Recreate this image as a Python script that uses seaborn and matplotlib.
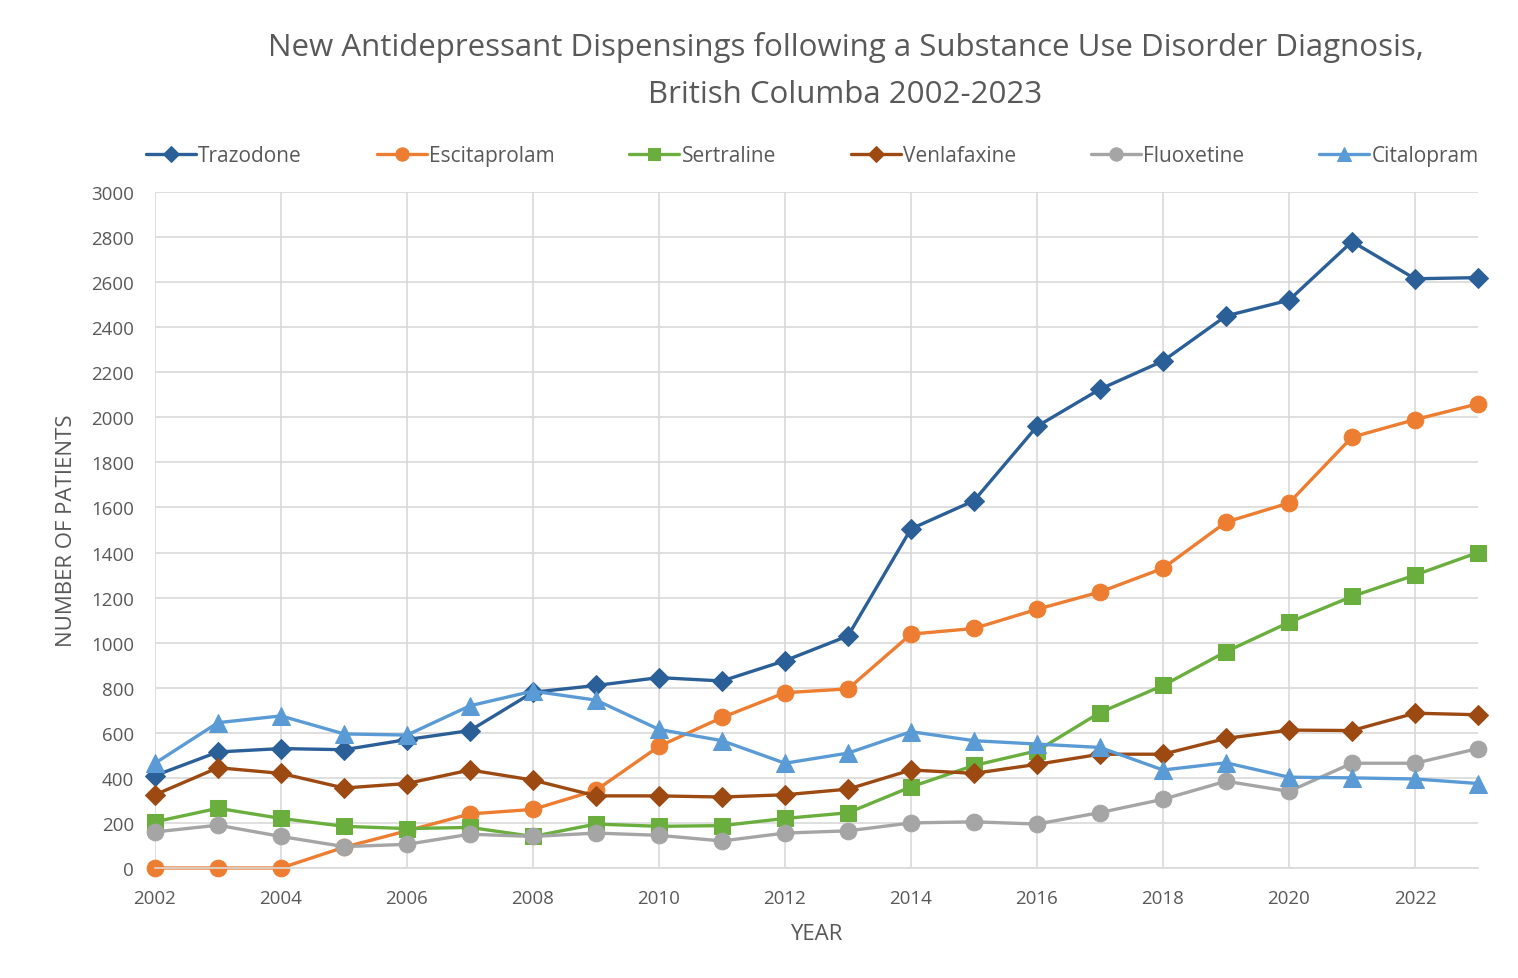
import numpy as np
import pandas as pd
import matplotlib
matplotlib.use("Agg")
import matplotlib.pyplot as plt
import seaborn as sns

years = list(range(2002, 2024))

trazodone = [410, 515, 530, 525, 570, 610, 780, 810, 845, 830, 920, 1030,
             1505, 1630, 1960, 2125, 2250, 2450, 2520, 2780, 2615, 2620]
escitaprolam = [0, 0, 0, 92, 165, 240, 260, 345, 540, 668, 778, 795,
                1038, 1063, 1148, 1225, 1330, 1535, 1620, 1912, 1990, 2060]
sertraline = [205, 265, 220, 185, 175, 180, 140, 195, 185, 188, 220, 245,
              360, 455, 520, 690, 810, 960, 1090, 1205, 1300, 1400]
venlafaxine = [325, 445, 420, 355, 375, 435, 390, 320, 320, 315, 325, 350,
               435, 420, 460, 505, 505, 575, 612, 610, 687, 680]
fluoxetine = [160, 190, 140, 95, 105, 150, 140, 155, 145, 120, 155, 165,
              200, 205, 195, 246, 305, 385, 340, 465, 465, 530]
citalopram = [465, 645, 675, 595, 590, 720, 785, 745, 615, 565, 465, 510,
              605, 565, 550, 535, 435, 467, 403, 400, 395, 375]

drugs = ["Trazodone", "Escitaprolam", "Sertraline", "Venlafaxine",
         "Fluoxetine", "Citalopram"]
series = [trazodone, escitaprolam, sertraline, venlafaxine, fluoxetine, citalopram]

colors = {
    "Trazodone": "#2B5F97",
    "Escitaprolam": "#ED7D31",
    "Sertraline": "#6AAE3E",
    "Venlafaxine": "#9C4A12",
    "Fluoxetine": "#A5A5A5",
    "Citalopram": "#5B9BD5",
}
markers = {
    "Trazodone": "D",
    "Escitaprolam": "o",
    "Sertraline": "s",
    "Venlafaxine": "D",
    "Fluoxetine": "o",
    "Citalopram": "^",
}
sizes = {
    "Trazodone": 10.5, "Escitaprolam": 12, "Sertraline": 11.5,
    "Venlafaxine": 10.5, "Fluoxetine": 12, "Citalopram": 12.5,
}

df = pd.DataFrame(
    [(y, d, v) for d, s in zip(drugs, series) for y, v in zip(years, s)],
    columns=["year", "drug", "patients"],
)

sns.set_theme(style="white")
plt.rcParams["font.family"] = ["Open Sans", "DejaVu Sans"]

fig = plt.figure(figsize=(15.18, 9.79), dpi=100)
ax = fig.add_axes([155 / 1518, 1 - 869 / 979, (1478 - 155) / 1518, (869 - 193) / 979])

for d in drugs:
    sns.lineplot(
        data=df[df["drug"] == d], x="year", y="patients", ax=ax,
        color=colors[d], marker=markers[d], markersize=sizes[d],
        markeredgecolor=colors[d], linewidth=2.4, label=d, legend=False,
        clip_on=False,
    )

ax.set_xlim(2002, 2023)
ax.set_ylim(0, 3000)
ax.set_xticks(range(2002, 2023, 2))
ax.set_yticks(range(0, 3001, 200))
ax.grid(True, color="#D9D9D9", linewidth=1.2)
ax.set_axisbelow(True)
for side in ["top", "right", "left"]:
    ax.spines[side].set_visible(False)
ax.spines["bottom"].set_color("#D9D9D9")
ax.spines["bottom"].set_linewidth(1.2)
ax.tick_params(axis="both", length=0, labelsize=13.5, colors="#595959")
ax.tick_params(axis="x", pad=15)
ax.tick_params(axis="y", pad=15)

ax.set_xlabel("YEAR", fontsize=16, color="#595959", labelpad=12)
ax.set_ylabel("NUMBER OF PATIENTS", fontsize=16, color="#595959", labelpad=10)

fig.text(0.557, 0.951,
         "New Antidepressant Dispensings following a Substance Use Disorder Diagnosis,",
         ha="center", va="center", fontsize=22.5, color="#595959")
fig.text(0.557, 0.903, "British Columba 2002-2023",
         ha="center", va="center", fontsize=22.5, color="#595959")

handles, labels = ax.get_legend_handles_labels()
fig.legend(handles, labels, loc="center", bbox_to_anchor=(0.535, 0.84),
           ncol=6, frameon=False, fontsize=15, handlelength=2.4,
           handletextpad=0.1, columnspacing=3.6, labelcolor="#595959",
           markerscale=0.8)

fig.savefig("out.png", dpi=100, facecolor="white")
